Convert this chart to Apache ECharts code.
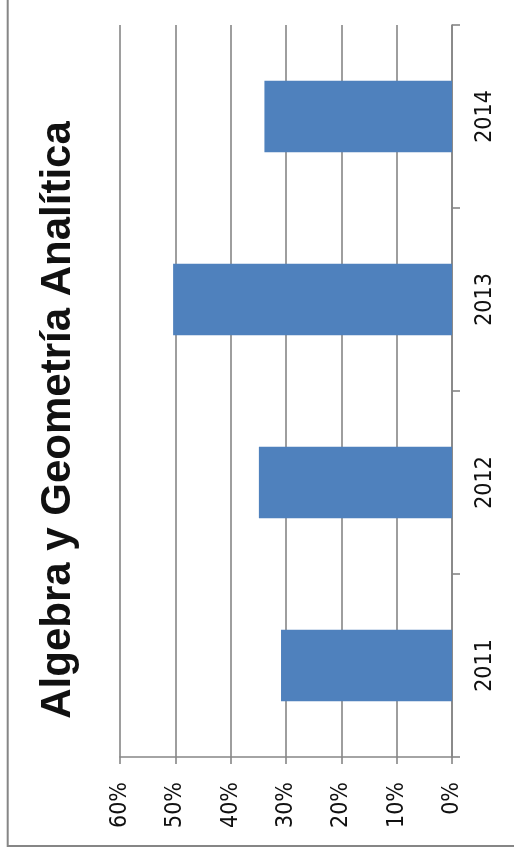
<!DOCTYPE html>
<html>
<head>
<meta charset="utf-8">
<script src="https://cdn.jsdelivr.net/npm/echarts@6/dist/echarts.min.js"></script>
<style>
html,body{margin:0;padding:0;background:#fff;}
#chart{width:514px;height:853px;}
</style>
</head>
<body>
<div id="chart"></div>
<script>
const titleText = 'Algebra y Geometría Analítica';
const categories = ['2011', '2012', '2013', '2014'];
const values = [30.9, 34.9, 50.4, 33.9];
const valueTicks = [0, 10, 20, 30, 40, 50, 60];

const chart = echarts.init(document.getElementById('chart'), null, {renderer: 'canvas'});
const gray = '#868686';
const labelFont = "'Liberation Sans Narrow', 'DejaVu Sans Condensed', sans-serif";

chart.setOption({
  animation: false,
  backgroundColor: '#ffffff',
  grid: {left: 120, right: 62, top: 25, bottom: 96, containLabel: false},
  xAxis: {
    type: 'value',
    position: 'bottom',
    inverse: true,
    min: valueTicks[0],
    max: valueTicks[valueTicks.length - 1],
    interval: 10,
    axisLine: {show: true, lineStyle: {color: gray, width: 1.6}},
    axisTick: {show: true, length: 7, lineStyle: {color: gray, width: 1.6}},
    splitLine: {show: true, lineStyle: {color: gray, width: 1.6}},
    axisLabel: {
      rotate: 90,
      margin: 25,
      formatter: '{value}%',
      fontFamily: labelFont,
      fontSize: 23,
      color: '#111'
    }
  },
  yAxis: {
    type: 'category',
    position: 'right',
    data: categories,
    axisLine: {show: true, lineStyle: {color: gray, width: 1.6}},
    axisTick: {show: true, length: 8, lineStyle: {color: gray, width: 1.6}},
    splitLine: {show: false},
    axisLabel: {
      rotate: 90,
      margin: 22,
      fontFamily: labelFont,
      fontSize: 23,
      color: '#111'
    }
  },
  series: [{
    type: 'bar',
    data: values,
    barCategoryGap: '61%',
    itemStyle: {color: '#4F81BD'}
  }],
  graphic: [
    {
      type: 'rect',
      silent: true,
      shape: {x: 7.7, y: -20, width: 540, height: 866},
      style: {fill: 'none', stroke: gray, lineWidth: 2}
    },
    {
      type: 'text',
      x: 58,
      y: 420,
      rotation: Math.PI / 2,
      style: {
        text: titleText,
        font: "bold 42px 'Liberation Sans', Arial, sans-serif",
        fill: '#111',
        textAlign: 'center',
        textVerticalAlign: 'middle'
      }
    }
  ]
});
</script>
</body>
</html>
